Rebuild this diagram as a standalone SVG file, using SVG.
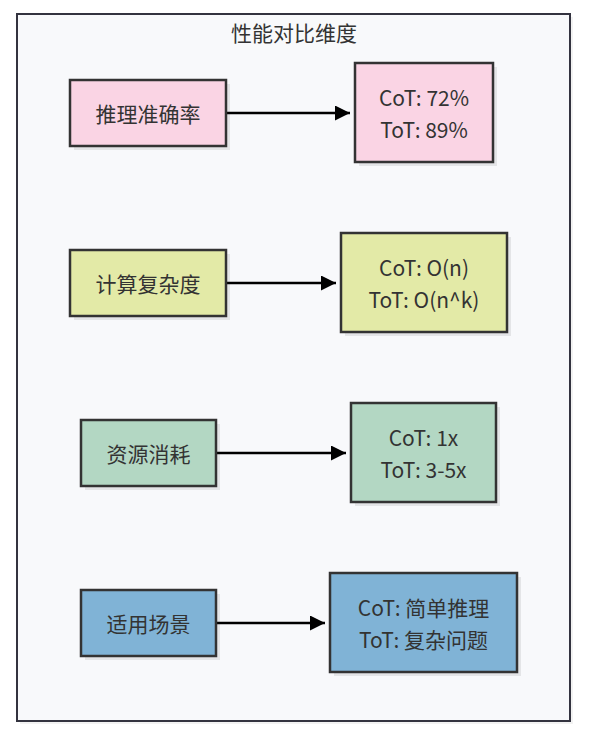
<svg xmlns="http://www.w3.org/2000/svg" width="596" height="736" viewBox="0 0 596 736">
<defs>
<style>
.frame{fill:#f8f9fb;stroke:#33333f;stroke-width:2}
.n{stroke:#333;stroke-width:2.5}
.sh{fill:#000;opacity:0.08}
.pink{fill:#fad4e4}
.yel{fill:#e3eaa7}
.grn{fill:#b3d7c3}
.blu{fill:#80b3d6}
text{font-family:"Noto Sans CJK SC","Noto Sans","Liberation Sans",sans-serif;font-size:21px;fill:#333;text-anchor:middle;dominant-baseline:central}
.edge{stroke:#000;stroke-width:2.5;fill:none;marker-end:url(#arr)}
</style>
<marker id="arr" viewBox="0 0 10 10" refX="10" refY="5" markerWidth="6" markerHeight="6" markerUnits="strokeWidth" orient="auto">
<path d="M0,0 L10,5 L0,10 z" fill="#000"/>
</marker>
</defs>
<rect width="596" height="736" fill="#ffffff"/>
<g id="frame">
<rect x="20" y="17" width="553" height="707" fill="#000" opacity="0.05"/>
<rect class="frame" x="17" y="14" width="553" height="707"/>
<text x="294" y="32">性能对比维度</text>
</g>
<g id="connectors">
<path class="edge" d="M227,113 H350"/>
<path class="edge" d="M227,283 H336"/>
<path class="edge" d="M217,453 H346"/>
<path class="edge" d="M217,623 H325"/>
</g>
<g id="acc">
<rect class="sh" x="74" y="84" width="156" height="66"/>
<rect class="n pink" x="70" y="80" width="156" height="66"/>
<text x="148" y="113">推理准确率</text>
</g>
<g id="acc-val">
<rect class="sh" x="359" y="67" width="138" height="99"/>
<rect class="n pink" x="355" y="63" width="138" height="99"/>
<text x="424" y="97">CoT: 72%</text>
<text x="424" y="129">ToT: 89%</text>
</g>
<g id="comp">
<rect class="sh" x="74" y="254" width="156" height="66"/>
<rect class="n yel" x="70" y="250" width="156" height="66"/>
<text x="148" y="283">计算复杂度</text>
</g>
<g id="comp-val">
<rect class="sh" x="345" y="237" width="166" height="99"/>
<rect class="n yel" x="341" y="233" width="166" height="99"/>
<text x="424" y="267">CoT: O(n)</text>
<text x="424" y="299">ToT: O(n^k)</text>
</g>
<g id="res">
<rect class="sh" x="85" y="424" width="135" height="66"/>
<rect class="n grn" x="81" y="420" width="135" height="66"/>
<text x="148.5" y="453">资源消耗</text>
</g>
<g id="res-val">
<rect class="sh" x="355" y="407" width="145" height="99"/>
<rect class="n grn" x="351" y="403" width="145" height="99"/>
<text x="423.5" y="437">CoT: 1x</text>
<text x="423.5" y="469">ToT: 3-5x</text>
</g>
<g id="use">
<rect class="sh" x="85" y="594" width="135" height="66"/>
<rect class="n blu" x="81" y="590" width="135" height="66"/>
<text x="148.5" y="623">适用场景</text>
</g>
<g id="use-val">
<rect class="sh" x="334" y="577" width="187" height="99"/>
<rect class="n blu" x="330" y="573" width="187" height="99"/>
<text x="423.5" y="607">CoT: 简单推理</text>
<text x="423.5" y="639">ToT: 复杂问题</text>
</g>
</svg>
